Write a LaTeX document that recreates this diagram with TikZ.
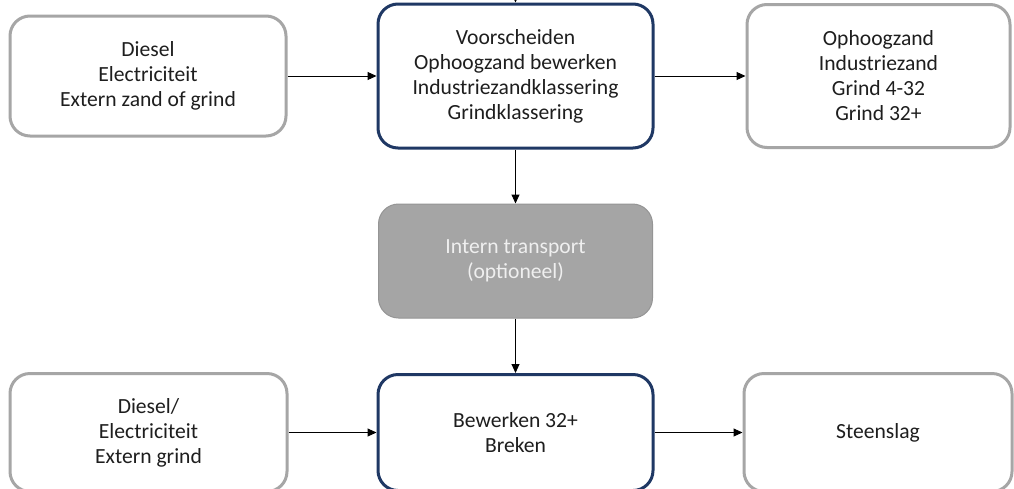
\documentclass[tikz,border=0pt]{standalone}
\usepackage{fontspec}
\setmainfont{Carlito}
\usetikzlibrary{arrows.meta}
\definecolor{boxgray}{HTML}{A6A6A6}
\definecolor{navy}{HTML}{1F3864}
\definecolor{txt}{HTML}{1E1E1E}
\definecolor{midfill}{HTML}{A5A5A5}
\definecolor{midline}{HTML}{959595}
\definecolor{midtxt}{HTML}{EFEFEF}
\tikzset{
  base/.style={rectangle, rounded corners=20pt, align=center, inner sep=0pt,
    font=\fontsize{21.6}{25}\selectfont},
  inbox/.style={base, draw=boxgray, line width=3pt, fill=white, text=txt},
  procbox/.style={base, draw=navy, line width=3pt, fill=white, text=txt},
  optbox/.style={base, draw=midline, line width=1pt, fill=midfill, text=midtxt},
  arr/.style={draw=black, line width=1pt, -{Triangle[length=9pt,width=8pt]}}
}
\begin{document}
\begin{tikzpicture}[x=1pt,y=-1pt]
\useasboundingbox (0,0) rectangle (1014,488);
\fill[white] (0,0) rectangle (1014,488);
\node[inbox, minimum width=276pt, minimum height=120pt] (tl) at (148,76) {Diesel\\Electriciteit\\Extern zand of grind};
\node[procbox, minimum width=275pt, minimum height=144pt] (tm) at (515.5,76) {Voorscheiden\\Ophoogzand bewerken\\Industriezandklassering\\Grindklassering};
\node[inbox, minimum width=263pt, minimum height=143pt] (tr) at (878.5,76) {Ophoogzand\\Industriezand\\Grind 4-32\\Grind 32+};
\node[optbox, minimum width=274pt, minimum height=114pt] (mid) at (515.5,261) {Intern transport\\(optioneel)};
\node[inbox, minimum width=277pt, minimum height=118pt] (bl) at (148.5,432.5) {Diesel/\\Electriciteit\\Extern grind};
\node[procbox, minimum width=275pt, minimum height=116pt] (bm) at (515.5,432.5) {Bewerken 32+\\Breken};
\node[inbox, minimum width=268pt, minimum height=118pt] (br) at (878,432.5) {Steenslag};
\coordinate (top) at (515.5,-12);
\draw[arr] (top) -- (tm.north);
\draw[arr] (tl.east) -- (tm.west);
\draw[arr] (tm.east) -- (tr.west);
\draw[arr] (tm.south) -- (mid.north);
\draw[arr] (mid.south) -- (bm.north);
\draw[arr] (bl.east) -- (bm.west);
\draw[arr] (bm.east) -- (br.west);
\end{tikzpicture}
\end{document}
